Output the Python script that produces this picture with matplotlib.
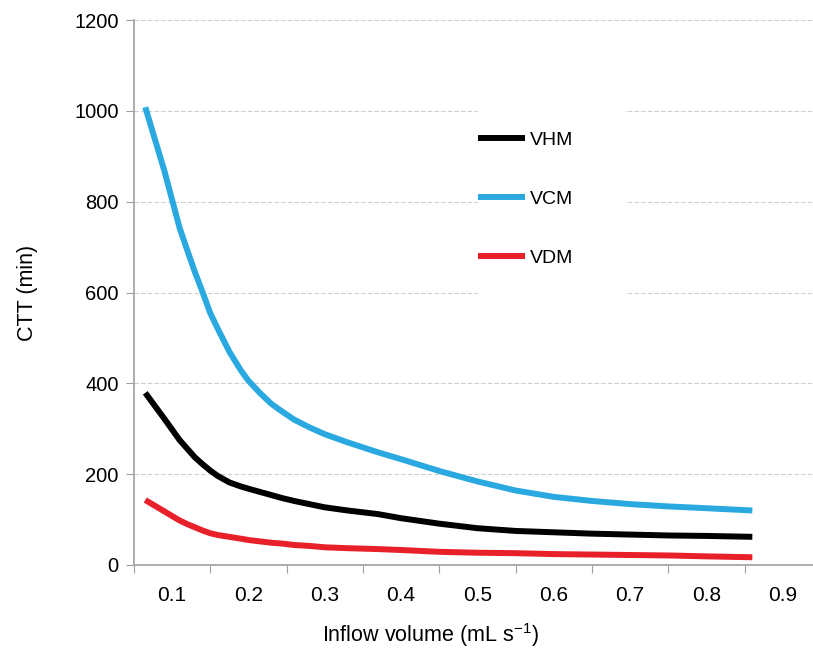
import matplotlib
matplotlib.use("Agg")
import matplotlib.pyplot as plt
from matplotlib.patches import Rectangle

plt.rcParams['font.family'] = ['Liberation Sans', 'DejaVu Sans']
plt.rcParams['mathtext.fontset'] = 'custom'
plt.rcParams['mathtext.rm'] = 'Liberation Sans'
plt.rcParams['mathtext.it'] = 'Liberation Sans'

#### data
flow = [0.065, 0.09, 0.11, 0.12, 0.13, 0.14, 0.15, 0.16, 0.175, 0.19, 0.2,
        0.215, 0.23, 0.245, 0.26, 0.28, 0.3, 0.33, 0.37,
        0.4, 0.45, 0.5, 0.55, 0.6, 0.65, 0.7, 0.75, 0.8, 0.86]
vhm = [379, 322, 275, 256, 237, 222, 208, 196, 182, 173, 168,
       161, 154, 147, 141, 134, 127, 120, 112,
       103, 91, 81, 75, 72, 69, 67, 65, 64, 62]
vcm = [1008, 868, 742, 693, 645, 601, 555, 520, 470, 429, 406,
       379, 355, 337, 320, 303, 288, 270, 248,
       233, 207, 184, 164, 150, 141, 134, 129, 125, 120]
vdm = [143, 118, 98, 90, 83, 76, 70, 66, 62, 58, 55,
       52, 49, 47, 44, 42, 39, 37, 35,
       33, 29, 27, 26, 24, 23, 22, 21, 19, 17]
xlabels = ['0.1', '0.2', '0.3', '0.4', '0.5', '0.6', '0.7', '0.8', '0.9']
xlabel_pos = [0.1, 0.2, 0.3, 0.4, 0.5, 0.6, 0.7, 0.8, 0.9]
cat_edges = [0.05, 0.15, 0.25, 0.35, 0.45, 0.55, 0.65, 0.75, 0.85, 0.95]

fig = plt.figure(figsize=(8.13, 6.48), dpi=100)
ax = fig.add_axes([0.1646, 0.1281, 0.8453, 0.841])

style = dict(lw=4.3, solid_capstyle='butt', solid_joinstyle='round')
ax.plot(flow, vhm, color='black', label='VHM', **style)
ax.plot(flow, vcm, color='#29a9e0', label='VCM', **style)
ax.plot(flow, vdm, color='#e8202a', label='VDM', **style)

ax.set_xlim(0.05, 0.95)
ax.set_ylim(0, 1200)
ax.set_yticks(range(0, 1201, 200))
ax.grid(axis='y', color='#cfcfcf', linestyle=(0, (4, 2)), lw=0.8)
ax.set_axisbelow(True)

# category style x axis: tick marks between labels
ax.set_xticks(cat_edges)
ax.set_xticklabels([''] * len(cat_edges))
ax.set_xticks(xlabel_pos, minor=True)
ax.set_xticklabels(xlabels, minor=True, fontsize=15)
ax.tick_params(axis='x', which='major', length=6, color='#a0a0a0', direction='out')
ax.tick_params(axis='x', which='minor', length=0, pad=15)
ax.tick_params(axis='y', length=6, color='#a0a0a0', labelsize=14.5, pad=5)

for s in ['top', 'right']:
    ax.spines[s].set_visible(False)
ax.spines['left'].set_color('#a0a0a0')
ax.spines['bottom'].set_color('#a0a0a0')
ax.spines['left'].set_linewidth(1.2)
ax.spines['bottom'].set_linewidth(1.2)

# white patch behind legend
ax.add_patch(Rectangle((0.588, 0.537), 0.181, 0.309, transform=fig.transFigure,
                       facecolor='white', edgecolor='none', zorder=1))

leg = ax.legend(loc='upper left', bbox_to_anchor=(0.588, 0.798), bbox_transform=fig.transFigure,
                frameon=False, fontsize=14, handlelength=2.4, handletextpad=0.25,
                labelspacing=2.13, borderpad=0, borderaxespad=0)

fig.text(28 / 813, 1 - 293 / 648, 'CTT (min)', rotation=90, ha='center', va='center', fontsize=15.5)
fig.text(430 / 813, 1 - 635 / 648, 'Inflow volume (mL s$^{\\minus 1}$)', ha='center', va='center',
         fontsize=15.5)

fig.savefig('out.png', dpi=100)
